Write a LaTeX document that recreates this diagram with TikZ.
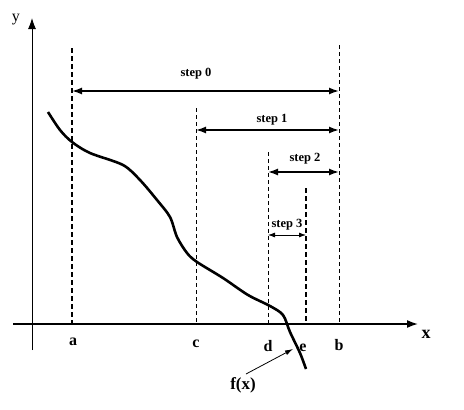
\documentclass[tikz,border=0pt]{standalone}
\usepackage{fontspec}
\setmainfont{Liberation Serif}
\usetikzlibrary{arrows.meta}
\newcommand{\labsize}{\fontsize{16}{16}\selectfont\bfseries}
\newcommand{\stepsize}{\fontsize{12.5}{12.5}\selectfont\bfseries}

\begin{document}
\begin{tikzpicture}[x=1pt,y=-1pt,
    thindash/.style={dash pattern=on 4pt off 3pt, line width=0.8pt},
    thickdash/.style={dash pattern=on 5pt off 3pt, line width=1.6pt},
    span/.style={line width=1.6pt, {Latex[length=10pt,width=7pt]}-{Latex[length=10pt,width=7pt]}},
    smallspan/.style={line width=0.8pt, {Latex[length=7pt,width=5pt]}-{Latex[length=7pt,width=5pt]}},
    steplab/.style={font=\stepsize, anchor=base},
    axlab/.style={font=\labsize, anchor=base}]
  \useasboundingbox (0,0) rectangle (464,410);

      %% the two axes
  \coordinate (xs) at (13,324);
  \coordinate (xe) at (418,324);
  \coordinate (ys) at (32,350);
  \coordinate (ye) at (32,18);
  \draw[line width=1.6pt, -{Latex[length=11pt,width=8pt]}] (xs) to (xe);
  \draw[line width=0.9pt, -{Latex[length=11pt,width=8pt]}] (ys) to (ye);
  \node (xl) at (426,338) [font=\fontsize{18}{18}\selectfont\bfseries, anchor=base] {x};
  \node (yl) at (16,20) [font=\fontsize{16}{16}\selectfont] {y};

      %% dashed marks at a, c, d, e, b
  \foreach \n/\x/\t/\s in {a/72/48/thickdash, c/196/108/thindash,
      d/268/152/thindash, e/306/188/thickdash, b/339/45/thindash}
  { \coordinate (\n top) at (\x,\t);
    \coordinate (\n) at (\x,324);
    \draw[\s] (\n top) to (\n);}
  \node (la) at (73,345) [axlab] {a};
  \node (lc) at (196,347) [axlab] {c};
  \node (ld) at (268,351) [axlab] {d};
  \node (le) at (303,351) [axlab] {e};
  \node (lb) at (339,350) [axlab] {b};

      %% the steps
  \foreach \n/\l/\r/\y in {0/72/339/91, 1/196/339/130, 2/268/339/172}
  { \coordinate (s\n l) at (\l,\y);
    \coordinate (s\n r) at (\r,\y);
    \draw[span] (s\n l) to (s\n r);}
  \coordinate (s3l) at (268,235);
  \coordinate (s3r) at (306,235);
  \draw[smallspan] (s3l) to (s3r);
  \node (t0) at (196,76) [steplab] {step 0};
  \node (t1) at (272,122) [steplab] {step 1};
  \node (t2) at (305,161) [steplab] {step 2};
  \node (t3) at (287,227) [steplab] {step 3};

      %% the function
  \draw[line width=2.6pt] plot[smooth] coordinates {(48,112) (60,130) (72,142)
      (90,153) (123,165) (140,180) (157,200) (170,217) (177,237) (187,253)
      (197,262) (223,278) (248,295) (270,306) (283,315) (290,332) (300,353)
      (306,369)};
  \node (fl) at (243,389) [font=\fontsize{17}{17}\selectfont\bfseries, anchor=base] {f(x)};
  \coordinate (fs) at (246,374);
  \coordinate (fx) at (293,349);
  \draw[line width=0.8pt, -{Latex[length=8pt,width=5pt]}] (fs) to (fx);

\end{tikzpicture}
\end{document}
